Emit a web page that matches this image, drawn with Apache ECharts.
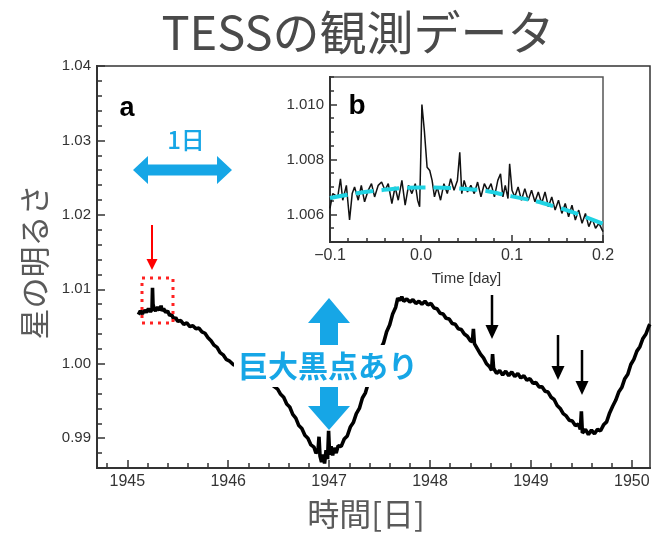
<!DOCTYPE html>
<html><head><meta charset="utf-8">
<script src="https://cdn.jsdelivr.net/npm/echarts@6/dist/echarts.min.js"></script>
<style>html,body{margin:0;padding:0;background:#fff}#c{width:653px;height:533px}</style>
</head><body><div id="c"></div>
<script>
// ---- main light curve (panel a) ----
const mainTime = [1945.11,1945.13,1945.15,1945.17,1945.19,1945.21,1945.23,1945.245,1945.25,1945.255,1945.265,1945.28,1945.30,1945.32,1945.335,1945.345,1945.36,1945.38,1945.40,1945.42,1945.44,1945.46,1945.48,1945.50,1945.53,1945.56,1945.59,1945.62,1945.65,1945.68,1945.71,1945.74,1945.77,1945.80,1945.83,1945.86,1945.89,1945.92,1945.95,1945.98,1946.01,1946.05,1946.15,1946.25,1946.35,1946.43,1946.46,1946.49,1946.52,1946.55,1946.58,1946.61,1946.64,1946.67,1946.70,1946.73,1946.76,1946.79,1946.82,1946.85,1946.87,1946.89,1946.90,1946.91,1946.925,1946.94,1946.955,1946.97,1946.985,1946.995,1947.005,1947.02,1947.035,1947.05,1947.07,1947.09,1947.12,1947.15,1947.18,1947.21,1947.24,1947.27,1947.30,1947.33,1947.36,1947.39,1947.42,1947.45,1947.48,1947.51,1947.54,1947.57,1947.60,1947.63,1947.66,1947.68,1947.70,1947.72,1947.74,1947.77,1947.80,1947.83,1947.86,1947.89,1947.92,1947.95,1947.98,1948.01,1948.04,1948.07,1948.10,1948.13,1948.16,1948.19,1948.22,1948.25,1948.28,1948.31,1948.34,1948.37,1948.40,1948.42,1948.43,1948.44,1948.47,1948.50,1948.53,1948.56,1948.59,1948.61,1948.62,1948.63,1948.66,1948.69,1948.72,1948.75,1948.78,1948.81,1948.84,1948.87,1948.90,1948.93,1948.96,1948.99,1949.02,1949.05,1949.08,1949.11,1949.14,1949.17,1949.20,1949.23,1949.26,1949.29,1949.32,1949.35,1949.38,1949.41,1949.44,1949.47,1949.49,1949.50,1949.51,1949.54,1949.57,1949.60,1949.63,1949.66,1949.69,1949.72,1949.75,1949.78,1949.81,1949.84,1949.87,1949.90,1949.93,1949.96,1949.99,1950.02,1950.05,1950.08,1950.11,1950.14,1950.17,1950.18];
const mainFlux = [1.0066,1.0071,1.0067,1.0072,1.0069,1.0074,1.0070,1.0073,1.0102,1.0080,1.0074,1.0071,1.0076,1.0072,1.0078,1.0071,1.0074,1.0069,1.0071,1.0065,1.0066,1.0060,1.0062,1.0057,1.0058,1.0053,1.0055,1.0050,1.0051,1.0047,1.0048,1.0043,1.0041,1.0035,1.0031,1.0025,1.0022,1.0015,1.0012,1.0006,1.0004,0.9999,0.9994,0.9987,0.9979,0.9972,0.9969,0.9966,0.9959,0.9955,0.9946,0.9942,0.9932,0.9927,0.9917,0.9913,0.9904,0.9900,0.9891,0.9888,0.9880,0.9883,0.9902,0.9876,0.9868,0.9878,0.9866,0.9884,0.9872,0.9910,0.9878,0.9889,0.9877,0.9887,0.9880,0.9890,0.9889,0.9899,0.9903,0.9915,0.9921,0.9933,0.9940,0.9954,0.9961,0.9975,0.9983,0.9997,1.0005,1.0020,1.0028,1.0043,1.0052,1.0067,1.0076,1.0088,1.0085,1.0090,1.0084,1.0087,1.0083,1.0086,1.0081,1.0084,1.0080,1.0084,1.0079,1.0081,1.0075,1.0074,1.0068,1.0067,1.0061,1.0060,1.0054,1.0053,1.0047,1.0046,1.0040,1.0037,1.0031,1.0030,1.0047,1.0027,1.0020,1.0013,1.0008,1.0000,0.9996,0.9991,1.0013,0.9994,0.9987,0.9991,0.9985,0.9990,0.9984,0.9989,0.9983,0.9987,0.9981,0.9984,0.9978,0.9980,0.9974,0.9975,0.9969,0.9969,0.9963,0.9962,0.9955,0.9952,0.9944,0.9940,0.9933,0.9930,0.9924,0.9923,0.9917,0.9919,0.9912,0.9936,0.9907,0.9912,0.9905,0.9911,0.9906,0.9912,0.9910,0.9918,0.9922,0.9934,0.9943,0.9951,0.9962,0.9968,0.9980,0.9986,0.9999,1.0006,1.0017,1.0023,1.0034,1.0040,1.0051,1.0053];

// ---- inset (panel b) ----
const insetTime = [-0.1,-0.097,-0.0915,-0.0885,-0.086,-0.082,-0.0785,-0.0756,-0.073,-0.069,-0.0656,-0.062,-0.058,-0.0544,-0.051,-0.047,-0.0433,-0.0396,-0.036,-0.032,-0.0285,-0.025,-0.021,-0.0174,-0.0137,-0.010,-0.0063,-0.0037,-0.0015,0.001,0.0037,0.0067,0.0096,0.0122,0.0148,0.0178,0.0215,0.0252,0.0289,0.0326,0.0363,0.040,0.0426,0.0448,0.0474,0.0511,0.0548,0.0585,0.0622,0.0659,0.0696,0.0733,0.077,0.0807,0.0844,0.0874,0.090,0.0926,0.0956,0.0974,0.100,0.103,0.1067,0.1104,0.1141,0.1178,0.1215,0.1252,0.1289,0.1326,0.1363,0.14,0.1437,0.1474,0.1511,0.1548,0.1585,0.1622,0.1659,0.1696,0.1733,0.177,0.1807,0.1844,0.1881,0.1918,0.1956,0.2];
const insetFlux = [1.00622,1.00676,1.00664,1.00730,1.00652,1.00706,1.00580,1.00676,1.00700,1.00652,1.00706,1.00646,1.00688,1.00712,1.00664,1.00706,1.00718,1.00688,1.00712,1.00640,1.00700,1.00652,1.00724,1.00634,1.00706,1.00676,1.00712,1.00652,1.00628,1.01000,1.00904,1.00772,1.00760,1.00724,1.00664,1.00700,1.00652,1.00712,1.00676,1.00730,1.00688,1.00724,1.00826,1.00676,1.00724,1.00682,1.00706,1.00676,1.00718,1.00664,1.00712,1.00688,1.00712,1.00664,1.00724,1.00748,1.00664,1.00706,1.00658,1.00784,1.00688,1.00664,1.00700,1.00652,1.00694,1.00652,1.00688,1.00646,1.00682,1.00640,1.00682,1.00628,1.00664,1.00616,1.00652,1.00604,1.00640,1.00592,1.00634,1.00580,1.00616,1.00568,1.00604,1.00556,1.00586,1.00550,1.00568,1.00538];
const trendTime = [-0.1,-0.05,0,0.05,0.1,0.15,0.2];
const trendFlux = [1.0066,1.00686,1.00698,1.00693,1.00666,1.00626,1.00566];

// ---- tick labels ----
const mainXTicks = [1945,1946,1947,1948,1949,1950];
const mainYTicks = [0.99,1.00,1.01,1.02,1.03,1.04];
const insetXTicks = [-0.1,0.0,0.1,0.2];
const insetYTicks = [1.006,1.008,1.010];

function minorList(a, b, step, majors){
  const out=[]; const n=Math.round((b-a)/step);
  for(let i=0;i<=n;i++){const v=+(a+i*step).toFixed(6); if(!majors.some(m=>Math.abs(m-v)<step/10)) out.push(v);}
  return out;
}
const mainXMinor = minorList(1944.8,1950.0,0.2,mainXTicks);
const mainYMinor = minorList(0.986,1.04,0.002,mainYTicks);
const insetXMinor = minorList(-0.1,0.2,0.02,insetXTicks);
const insetYMinor = minorList(1.005,1.011,0.0005,insetYTicks);

const AX='#333', LBL='#333', LF='Liberation Sans';
const BLUE='#16a6e6';

function xAx(grid,min,max,pos,major,minor,labelVals,fmt,len,name){
  return {type:'value',gridIndex:grid,min:min,max:max,position:pos,
    name:name||'',nameLocation:'middle',nameGap:29,nameTextStyle:{fontSize:15,color:LBL,fontFamily:LF},
    axisLine:{show:true,onZero:false,lineStyle:{color:AX,width:2}},
    axisTick:{show:true,inside:true,length:len,customValues:major?major:minor,lineStyle:{color:AX,width:1.5}},
    axisLabel:{show:!!labelVals,customValues:labelVals||[],formatter:fmt,fontSize:16,color:LBL,fontFamily:LF,margin:6},
    splitLine:{show:false}};
}
function yAx(grid,min,max,major,minor,labelVals,fmt,len){
  return {type:'value',gridIndex:grid,min:min,max:max,position:'left',
    axisLine:{show:true,onZero:false,lineStyle:{color:AX,width:2}},
    axisTick:{show:true,inside:true,length:len,customValues:major?major:minor,lineStyle:{color:AX,width:1.5}},
    axisLabel:{show:!!labelVals,customValues:labelVals||[],formatter:fmt,fontSize:15,color:LBL,fontFamily:LF,margin:6},
    splitLine:{show:false}};
}
const fmtInsetX = v => (v < -1e-9 ? '\u2212'+Math.abs(v).toFixed(1) : Math.abs(v).toFixed(1));

const chart = echarts.init(document.getElementById('c'),null,{renderer:'canvas'});
chart.setOption({
  animation:false,
  backgroundColor:'#fff',
  grid:[
    {left:97,top:66,width:553,height:402,show:true,borderColor:AX,borderWidth:1.5,backgroundColor:'#fff'},
    {left:330,top:77,width:273,height:165,show:true,borderColor:'#555',borderWidth:1.5,backgroundColor:'#fff'}
  ],
  xAxis:[
    xAx(0,1944.7,1950.18,'bottom',mainXTicks,null,mainXTicks,v=>String(Math.round(v)),8),
    xAx(0,1944.7,1950.18,'bottom',null,mainXMinor,null,null,5),
    xAx(1,-0.1,0.2,'bottom',insetXTicks,null,insetXTicks,fmtInsetX,7,'Time [day]'),
    xAx(1,-0.1,0.2,'bottom',null,insetXMinor,null,null,4)
  ],
  yAxis:[
    yAx(0,0.986,1.04,mainYTicks,null,mainYTicks,v=>v.toFixed(2),8),
    yAx(0,0.986,1.04,null,mainYMinor,null,null,5),
    yAx(1,1.005,1.011,insetYTicks,null,insetYTicks,v=>v.toFixed(3),7),
    yAx(1,1.005,1.011,null,insetYMinor,null,null,4)
  ],
  series:[
    {type:'line',xAxisIndex:0,yAxisIndex:0,showSymbol:false,symbol:'none',
     data:mainTime.map((t,i)=>[t,mainFlux[i]]),lineStyle:{color:'#000',width:3.6},z:2},
    {type:'line',xAxisIndex:2,yAxisIndex:2,showSymbol:false,symbol:'none',
     data:insetTime.map((t,i)=>[t,insetFlux[i]]),lineStyle:{color:'#111',width:1.5},z:3},
    {type:'line',xAxisIndex:2,yAxisIndex:2,showSymbol:false,symbol:'none',smooth:true,
     data:trendTime.map((t,i)=>[t,trendFlux[i]]),lineStyle:{color:'#1fd3e3',width:4,type:[18,8]},z:4}
  ],
  graphic:[
    {type:'text',x:358,y:32,z:10,style:{text:'TESSの観測データ',font:'400 47px "Noto Sans CJK JP"',fill:'#4a4a4a',align:'center',verticalAlign:'middle'}},
    {type:'text',x:34,y:262,rotation:Math.PI/2,z:10,style:{text:'星の明るさ',font:'400 31px "Noto Sans CJK JP"',fill:'#5a5a5a',align:'center',verticalAlign:'middle'}},
    {type:'text',x:366,y:514,z:10,style:{text:'時間[日]',font:'400 32px "Noto Sans CJK JP"',fill:'#5a5a5a',align:'center',verticalAlign:'middle'}},
    {type:'text',x:127,y:109,z:10,style:{text:'a',font:'bold 27px "Liberation Sans"',fill:'#000',align:'center',verticalAlign:'middle'}},
    {type:'text',x:357,y:106,z:10,style:{text:'b',font:'bold 28px "Liberation Sans"',fill:'#000',align:'center',verticalAlign:'middle'}},
    {type:'text',x:186,y:140,z:10,style:{text:'1日',font:'500 24px "Noto Sans CJK JP"',fill:BLUE,align:'center',verticalAlign:'middle'}},
    {type:'polygon',z:10,shape:{points:[[133,170],[148,156],[148,164.5],[217,164.5],[217,156],[232,170],[217,184],[217,175.5],[148,175.5],[148,184]]},style:{fill:BLUE}},
    {type:'polygon',z:10,shape:{points:[[329,298],[350,323],[338,323],[338,406],[350,406],[329,430],[308,406],[320,406],[320,323],[308,323]]},style:{fill:BLUE}},
    {type:'text',x:328,y:366,z:11,style:{text:'巨大黒点あり',font:'bold 30px "Noto Sans CJK JP"',fill:BLUE,align:'center',verticalAlign:'middle',backgroundColor:'#fff',padding:[6,4,6,4]}},
    {type:'line',z:10,shape:{x1:152,y1:225,x2:152,y2:262},style:{stroke:'#f00',lineWidth:2}},
    {type:'polygon',z:10,shape:{points:[[146.5,259],[157.5,259],[152,270]]},style:{fill:'#f00'}},
    {type:'rect',z:10,shape:{x:142,y:278,width:31,height:45},style:{fill:'none',stroke:'#f22',lineWidth:3,lineDash:[3,5]}},
    {type:'line',z:10,shape:{x1:492,y1:295,x2:492,y2:328},style:{stroke:'#000',lineWidth:2.5}},
    {type:'polygon',z:10,shape:{points:[[485.5,325],[498.5,325],[492,339]]},style:{fill:'#000'}},
    {type:'line',z:10,shape:{x1:558,y1:335,x2:558,y2:368},style:{stroke:'#000',lineWidth:2.5}},
    {type:'polygon',z:10,shape:{points:[[551.5,366],[564.5,366],[558,380]]},style:{fill:'#000'}},
    {type:'line',z:10,shape:{x1:582,y1:350,x2:582,y2:383},style:{stroke:'#000',lineWidth:2.5}},
    {type:'polygon',z:10,shape:{points:[[575.5,381],[588.5,381],[582,395]]},style:{fill:'#000'}}
  ]
});
</script></body></html>
